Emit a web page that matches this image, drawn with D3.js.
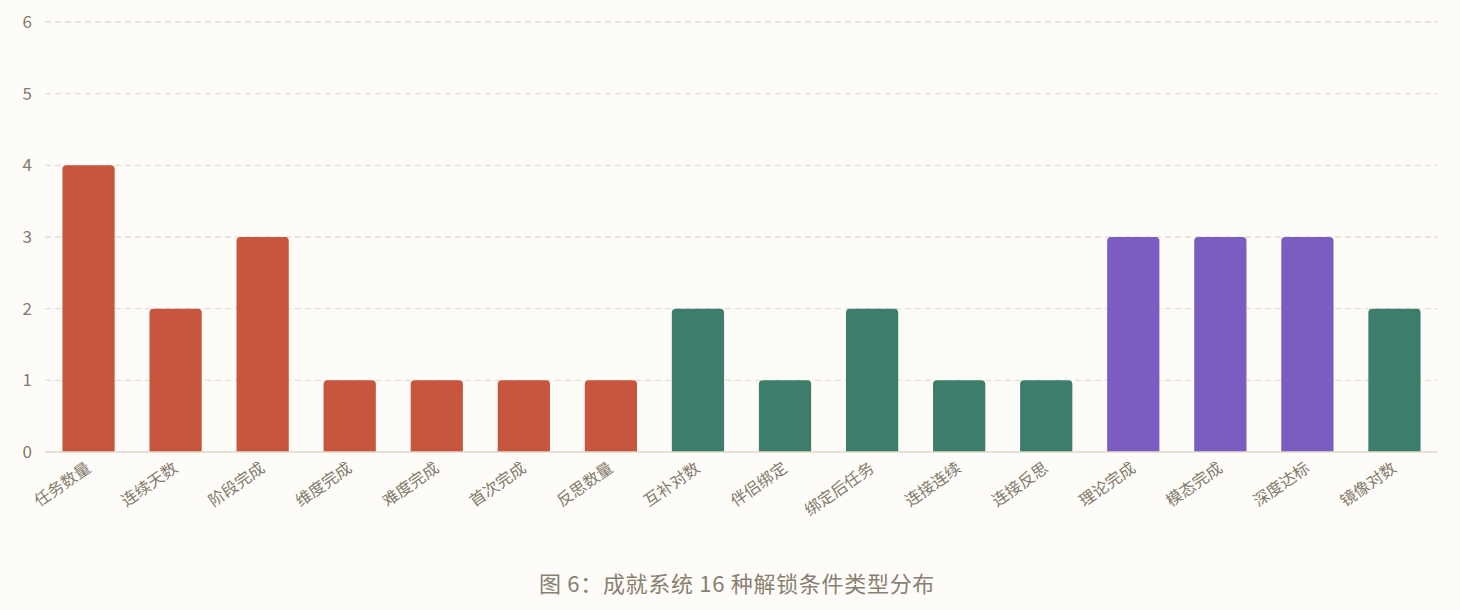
<!DOCTYPE html>
<html>
<head>
<meta charset="utf-8">
<script src="https://cdn.jsdelivr.net/npm/d3@7"></script>
<style>
  body { margin: 0; background: #fdfcf8; }
  svg { display: block; font-family: "Noto Sans CJK SC", "Noto Sans", sans-serif; }
</style>
</head>
<body>
<div id="chart"></div>
<script>
// 解锁条件类型
var categories = ["任务数量", "连续天数", "阶段完成", "维度完成", "难度完成", "首次完成", "反思数量",
  "互补对数", "伴侣绑定", "绑定后任务", "连接连续", "连接反思",
  "理论完成", "模态完成", "深度达标", "镜像对数"];
var counts = [4, 2, 3, 1, 1, 1, 1, 2, 1, 2, 1, 1, 3, 3, 3, 2];
var groups = ["a", "a", "a", "a", "a", "a", "a", "b", "b", "b", "b", "b", "c", "c", "c", "b"];
var yTicks = [0, 1, 2, 3, 4, 5, 6];
var caption = "图 6：成就系统 16 种解锁条件类型分布";

var W = 1460, H = 610;
var margin = {top: 22, right: 22, bottom: 158, left: 45};
var width = W - margin.left - margin.right,
    height = H - margin.top - margin.bottom;

var color = d3.scaleOrdinal().domain(["a", "b", "c"]).range(["#c8553d", "#3d7d6b", "#7b5cbf"]);

var svg = d3.select("#chart").append("svg")
  .attr("width", W).attr("height", H)
  .style("background", "#fdfcf8");

var g = svg.append("g").attr("transform", "translate(" + margin.left + "," + margin.top + ")");

var x = d3.scaleBand().domain(categories).range([0, width]).paddingInner(0.4).paddingOuter(0.2);
var y = d3.scaleLinear().domain([0, 6]).range([height, 0]);

// grid
g.append("g").selectAll("line").data(yTicks.filter(function(d) { return d > 0; }))
  .enter().append("line")
  .attr("x1", 0).attr("x2", width)
  .attr("y1", function(d) { return y(d); }).attr("y2", function(d) { return y(d); })
  .attr("stroke", "#e4ddd0").attr("stroke-width", 1.3).attr("stroke-dasharray", "6,4");

// y axis labels
g.append("g").selectAll("text").data(yTicks).enter().append("text")
  .attr("x", -13).attr("y", function(d) { return y(d); })
  .attr("dy", "0.35em").attr("text-anchor", "end")
  .attr("fill", "#857a6c").style("font-size", "17px")
  .text(function(d) { return d; });

// bars with rounded top corners
function barPath(d, i) {
  var x0 = x(categories[i]), w = x.bandwidth(), y0 = y(d), y1 = y(0), r = 4;
  return "M" + x0 + "," + y1 + "V" + (y0 + r) + "Q" + x0 + "," + y0 + " " + (x0 + r) + "," + y0 +
    "H" + (x0 + w - r) + "Q" + (x0 + w) + "," + y0 + " " + (x0 + w) + "," + (y0 + r) + "V" + y1 + "Z";
}
g.append("g").selectAll("path").data(counts).enter().append("path")
  .attr("d", barPath)
  .attr("fill", function(d, i) { return color(groups[i]); });

// baseline
g.append("line").attr("x1", 0).attr("x2", width).attr("y1", height).attr("y2", height)
  .attr("stroke", "#e0d8ca").attr("stroke-width", 1.5);

// x labels
g.append("g").selectAll("text").data(categories).enter().append("text")
  .attr("transform", function(d) {
    return "translate(" + (x(d) + x.bandwidth() / 2) + "," + (height + 14) + ") rotate(-35)";
  })
  .attr("text-anchor", "end").attr("dy", "0.35em")
  .attr("fill", "#857a6c").style("font-size", "16px")
  .text(function(d) { return d; });

// caption
svg.append("text").attr("x", W / 2 + 7).attr("y", 592)
  .attr("text-anchor", "middle").attr("fill", "#8a7f70")
  .style("font-size", "22px").style("letter-spacing", "0.7px")
  .text(caption);
</script>
</body>
</html>
